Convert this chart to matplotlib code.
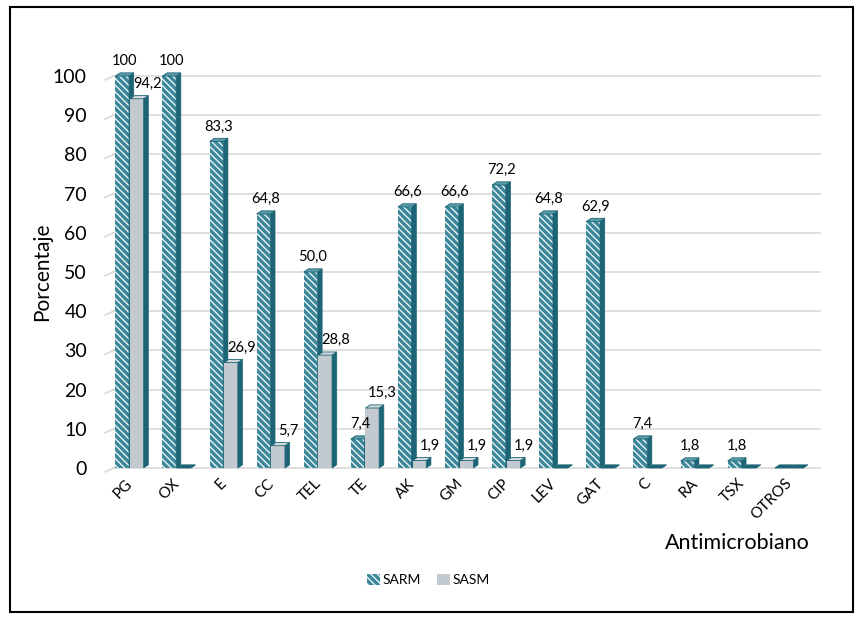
import matplotlib
matplotlib.use('Agg')
import matplotlib.pyplot as plt
from matplotlib.patches import Polygon, Rectangle, Patch
import numpy as np

categories = ['PG', 'OX', 'E', 'CC', 'TEL', 'TE', 'AK', 'GM', 'CIP', 'LEV', 'GAT', 'C', 'RA', 'TSX', 'OTROS']
sarm = [100, 100, 83.3, 64.8, 50.0, 7.4, 66.6, 66.6, 72.2, 64.8, 62.9, 7.4, 1.8, 1.8, 0]
sasm = [94.2, 0, 26.9, 5.7, 28.8, 15.3, 1.9, 1.9, 1.9, 0, 0, 0, 0, 0, 0]
sarm_labels = ['100', '100', '83,3', '64,8', '50,0', '7,4', '66,6', '66,6', '72,2', '64,8', '62,9', '7,4', '1,8', '1,8', '']
sasm_labels = ['94,2', '', '26,9', '5,7', '28,8', '15,3', '1,9', '1,9', '1,9', '', '', '', '', '', '']
yticks = [0, 10, 20, 30, 40, 50, 60, 70, 80, 90, 100]

plt.rcParams['font.family'] = ['Lato', 'DejaVu Sans']
plt.rcParams['hatch.linewidth'] = 2.4

TEAL = '#3a8799'
DARK = '#1d6576'
GRAY = '#c3cacf'
GRAYTOP = '#d3d9dc'
HATCH = '\\\\\\\\\\'

fig = plt.figure(figsize=(8.57, 6.24), dpi=100)
L, R = 105 / 857, 820 / 857
B, T = (624 - 468) / 624, (624 - 76) / 624
ax = fig.add_axes([L, B, R - L, T - B])
xl, xr = -0.55, 14.63
ax.set_xlim(xl, xr)
ax.set_ylim(0, 100)
for s in ax.spines.values():
    s.set_visible(False)

# gridlines
for y in yticks:
    ax.plot([xl + 0.18, xr], [y, y], color='#d9d9d9', lw=1.2, zorder=0, clip_on=False)
    ax.plot([xl, xl + 0.18], [y - 1.0, y], color='#d9d9d9', lw=1.2, zorder=0, clip_on=False)

w = 0.29
dx = 0.1
dy = 0.8


def bar3d(x0, h, face, hatch, topc, z):
    front = Rectangle((x0, 0), w, h, facecolor=face, edgecolor=TEAL if hatch else face,
                      hatch=hatch, lw=0, zorder=z, clip_on=False)
    ax.add_patch(front)
    side = Polygon([(x0 + w, 0), (x0 + w + dx, dy), (x0 + w + dx, h + dy), (x0 + w, h)],
                   closed=True, facecolor=DARK, edgecolor=DARK, lw=0.5, zorder=z, clip_on=False)
    ax.add_patch(side)
    top = Polygon([(x0, h), (x0 + dx, h + dy), (x0 + w + dx, h + dy), (x0 + w, h)],
                  closed=True, facecolor=topc if h > 0 else DARK, edgecolor=DARK, lw=0.6,
                  zorder=z, clip_on=False)
    ax.add_patch(top)


x = np.arange(len(categories))
for i in range(len(categories)):
    x1 = x[i] - 0.33
    bar3d(x1, sarm[i], '#eef4f6', HATCH, '#5b9cab', 2 + i * 0.01)
    if sarm_labels[i]:
        ax.text(x1 + w / 2 + dx / 2, sarm[i] + dy + 1.2, sarm_labels[i], ha='center', va='bottom',
                fontsize=10.5, zorder=5, clip_on=False)
    x2 = x[i] - 0.02
    bar3d(x2, sasm[i], GRAY, None, GRAYTOP, 3 + i * 0.01)
    if sasm_labels[i]:
        ax.text(x2 + w / 2 + dx + 0.12, sasm[i] + dy + 1.2, sasm_labels[i], ha='center', va='bottom',
                fontsize=10.5, zorder=5, clip_on=False)

ax.set_yticks(yticks)
ax.set_yticklabels([str(v) for v in yticks], fontsize=14)
ax.set_xticks(x - 0.12)
ax.set_xticklabels(categories, rotation=45, ha='right', rotation_mode='anchor', fontsize=11)
ax.tick_params(axis='both', length=0)
ax.tick_params(axis='y', pad=13)
ax.tick_params(axis='x', pad=6)

fig.text(42 / 857, (624 - 272) / 624, 'Porcentaje', rotation=90, ha='center', va='center', fontsize=15)
fig.text(737 / 857, (624 - 543) / 624, 'Antimicrobiano', ha='center', va='center', fontsize=15.5)

handles = [Patch(facecolor='#eef4f6', edgecolor=TEAL, hatch=HATCH, lw=0),
           Patch(facecolor=GRAY, edgecolor=GRAY, lw=0)]
fig.legend(handles, ['SARM', 'SASM'], loc='center', bbox_to_anchor=(0.5, (624 - 580) / 624),
           ncol=2, frameon=False, fontsize=10, handlelength=0.9, handleheight=0.9,
           handletextpad=0.2, columnspacing=1.2)

fig.add_artist(Rectangle((10 / 857, (624 - 612) / 624), (853 - 10) / 857, (612 - 7) / 624,
                         transform=fig.transFigure, fill=False, edgecolor='black', lw=1.5))

fig.savefig('out.png', dpi=100)
